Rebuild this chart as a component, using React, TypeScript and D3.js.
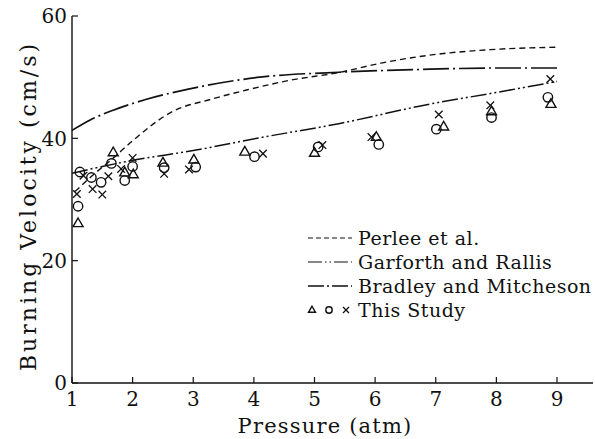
import React from "react";
import * as d3 from "d3";

const xTicks = [1, 2, 3, 4, 5, 6, 7, 8, 9];
const yTicks = [0, 20, 40, 60];

const perleeP = [1.05, 1.3, 1.66, 2.0, 2.66, 3.3, 3.88, 4.6, 5.42, 6.1, 6.9, 7.9, 9.0];
const perleeV = [31.3, 33.6, 36.6, 39.6, 44.4, 46.4, 47.9, 49.5, 50.8, 52.3, 53.6, 54.5, 54.9];

const garforthP = [1.0, 1.5, 2.0, 3.0, 4.1, 5.4, 6.9, 8.0, 9.0];
const garforthV = [34.3, 35.4, 36.4, 38.0, 40.1, 42.4, 45.6, 47.5, 49.3];

const bradleyP = [1.0, 1.3, 1.68, 2.2, 2.9, 4.1, 5.4, 6.9, 8.0, 9.0];
const bradleyV = [41.3, 43.0, 44.6, 46.3, 48.0, 50.0, 50.8, 51.3, 51.5, 51.5];

const triP = [1.1, 1.68, 1.87, 2.01, 2.5, 3.01, 3.85, 5.0, 6.02, 7.13, 7.92, 8.9];
const triV = [26.1, 37.7, 34.4, 34.1, 36.0, 36.5, 37.8, 37.6, 40.2, 41.9, 44.4, 45.6];

const circP = [1.1, 1.13, 1.32, 1.48, 1.65, 1.87, 2.0, 2.52, 3.04, 4.01, 5.06, 6.06, 7.01, 7.92, 8.85];
const circV = [28.9, 34.5, 33.6, 32.8, 35.9, 33.1, 35.4, 35.2, 35.3, 37.0, 38.6, 39.0, 41.5, 43.4, 46.7];

const crossP = [1.08, 1.19, 1.34, 1.5, 1.6, 1.81, 2.0, 2.52, 2.93, 4.15, 5.13, 5.94, 7.05, 7.9, 8.89];
const crossV = [30.9, 33.9, 31.7, 30.8, 33.8, 35.0, 36.8, 34.2, 34.9, 37.5, 38.9, 40.2, 43.9, 45.4, 49.7];

const legendLabels = ["Perlee et al.", "Garforth and Rallis", "Bradley and Mitcheson", "This Study"];

const FONT = "'DejaVu Serif', 'Liberation Serif', serif";
const INK = "#111";

const x = d3.scaleLinear().domain([1, 9]).range([72, 557]);
const y = d3.scaleLinear().domain([0, 60]).range([383, 16]);

const line = d3
  .line<[number, number]>()
  .x((d) => x(d[0]))
  .y((d) => y(d[1]))
  .curve(d3.curveMonotoneX);

const zip = (a: number[], b: number[]) => a.map((v, i) => [v, b[i]] as [number, number]);

const dashPerlee = "6,4";
const dashGarforth = "16,3,2,3,2,3";
const dashBradley = "26,4,2,4";

function Tri({ cx, cy, s = 5 }: { cx: number; cy: number; s?: number }) {
  const h = s * 1.73;
  return (
    <path
      d={`M${cx},${cy - h * 0.62} L${cx + s},${cy + h * 0.38} L${cx - s},${cy + h * 0.38} Z`}
      fill="none"
      stroke={INK}
      strokeWidth={1.4}
    />
  );
}
function Circ({ cx, cy, r = 4.7 }: { cx: number; cy: number; r?: number }) {
  return <circle cx={cx} cy={cy} r={r} fill="none" stroke={INK} strokeWidth={1.4} />;
}
function Cross({ cx, cy, s = 3.8 }: { cx: number; cy: number; s?: number }) {
  return (
    <path
      d={`M${cx - s},${cy - s} L${cx + s},${cy + s} M${cx - s},${cy + s} L${cx + s},${cy - s}`}
      stroke={INK}
      strokeWidth={1.3}
    />
  );
}

export default function App() {
  const xEnd = 593;
  const legX = 308;
  const legRows = [238, 262, 286, 310];
  return (
    <svg width={595} height={439} style={{ position: "absolute", left: 0, top: 0, background: "#fff" }}>
      <rect width={595} height={439} fill="#fff" />
      {/* axes */}
      <line x1={72} y1={y(60)} x2={72} y2={y(0)} stroke={INK} strokeWidth={1.4} />
      <line x1={72} y1={y(0)} x2={xEnd} y2={y(0)} stroke={INK} strokeWidth={1.6} />
      {yTicks.map((t) => (
        <g key={"yt" + t}>
          <line x1={72} x2={78} y1={y(t)} y2={y(t)} stroke={INK} strokeWidth={1.2} />
          <text x={67} y={y(t)} dy="0.36em" textAnchor="end" fontFamily={FONT} fontSize={20} fill={INK}>
            {t}
          </text>
        </g>
      ))}
      {xTicks.map((t) => (
        <g key={"xt" + t}>
          <line x1={x(t)} x2={x(t)} y1={y(0)} y2={y(0) - 6} stroke={INK} strokeWidth={1.2} />
          <text x={x(t)} y={406} textAnchor="middle" fontFamily={FONT} fontSize={20} fill={INK}>
            {t}
          </text>
        </g>
      ))}
      <text x={325} y={433} textAnchor="middle" fontFamily={FONT} fontSize={21} letterSpacing={1.2} fill={INK}>
        Pressure (atm)
      </text>
      <text
        transform="translate(36,206) rotate(-90)"
        textAnchor="middle"
        fontFamily={FONT}
        fontSize={22}
        letterSpacing={3}
        fill={INK}
      >
        Burning Velocity (cm/s)
      </text>

      {/* curves */}
      <path d={line(zip(perleeP, perleeV)) || ""} fill="none" stroke={INK} strokeWidth={1.4} strokeDasharray={dashPerlee} />
      <path d={line(zip(garforthP, garforthV)) || ""} fill="none" stroke={INK} strokeWidth={1.5} strokeDasharray={dashGarforth} />
      <path d={line(zip(bradleyP, bradleyV)) || ""} fill="none" stroke={INK} strokeWidth={1.7} strokeDasharray={dashBradley} />

      {/* data */}
      {triP.map((p, i) => (
        <Tri key={"t" + i} cx={x(p)} cy={y(triV[i])} />
      ))}
      {circP.map((p, i) => (
        <Circ key={"c" + i} cx={x(p)} cy={y(circV[i])} />
      ))}
      {crossP.map((p, i) => (
        <Cross key={"x" + i} cx={x(p)} cy={y(crossV[i])} />
      ))}

      {/* legend */}
      <line x1={legX} x2={352} y1={legRows[0]} y2={legRows[0]} stroke={INK} strokeWidth={1.2} strokeDasharray="5,3" />
      <line x1={legX} x2={352} y1={legRows[1]} y2={legRows[1]} stroke={INK} strokeWidth={1.2} strokeDasharray="14,3,1.5,3,1.5,3" />
      <line x1={legX} x2={352} y1={legRows[2]} y2={legRows[2]} stroke={INK} strokeWidth={1.5} strokeDasharray="16,3,2,3" />
      <Tri cx={312} cy={legRows[3]} s={3.5} />
      <Circ cx={329} cy={legRows[3]} r={3.2} />
      <Cross cx={346} cy={legRows[3]} s={3} />
      {legendLabels.map((l, i) => (
        <text key={l} x={358} y={legRows[i]} dy="0.35em" fontFamily={FONT} fontSize={19} letterSpacing={0.5} fill={INK}>
          {l}
        </text>
      ))}
    </svg>
  );
}
